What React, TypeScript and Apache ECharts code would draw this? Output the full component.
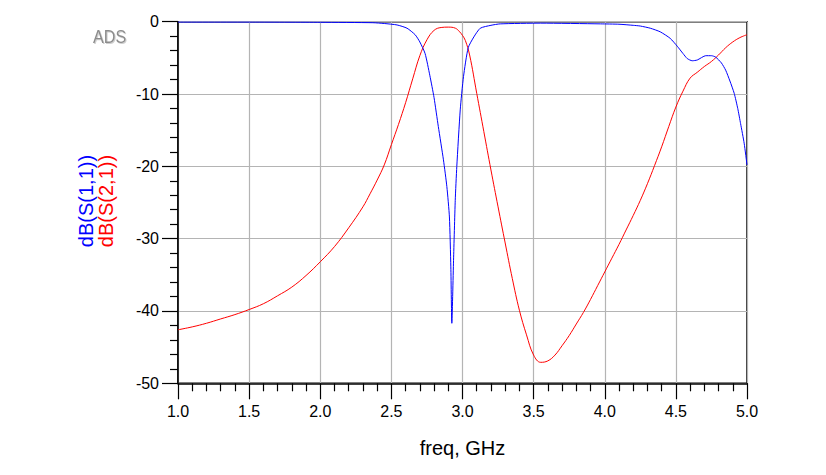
import React, { useEffect, useRef } from "react";
import * as echarts from "echarts";

// freq (GHz), dB(S(1,1))
const s11: [number, number][] = [
  [1.0, -0.05], [1.5, -0.05], [2.0, -0.08], [2.37, -0.14], [2.45, -0.25],
  [2.54, -0.45], [2.61, -0.9], [2.667, -1.8], [2.7, -2.8], [2.737, -4.4],
  [2.77, -7.4], [2.8, -10.5], [2.83, -14.5], [2.866, -19.1], [2.89, -22.8],
  [2.908, -27.0], [2.918, -33.9], [2.925, -41.7], [2.937, -33.0], [2.949, -24.7],
  [2.96, -20.0], [2.984, -12.2], [3.007, -7.6], [3.04, -3.6], [3.08, -2.1],
  [3.125, -0.9], [3.2, -0.5], [3.265, -0.3], [3.55, -0.2], [3.97, -0.3],
  [4.1, -0.35], [4.2, -0.5], [4.25, -0.6], [4.32, -0.9], [4.39, -1.4],
  [4.46, -2.3], [4.51, -3.4], [4.55, -4.4], [4.58, -5.1], [4.615, -5.4],
  [4.65, -5.3], [4.71, -4.7], [4.75, -4.7], [4.78, -4.9], [4.82, -5.7],
  [4.85, -6.7], [4.88, -8.2], [4.91, -9.9], [4.935, -12.0], [4.955, -14.1],
  [4.98, -16.8], [5.0, -19.8],
];

// freq (GHz), dB(S(2,1))
const s21: [number, number][] = [
  [1.0, -42.6], [1.1, -42.2], [1.2, -41.7], [1.3, -41.1], [1.4, -40.5],
  [1.5, -39.8], [1.6, -39.0], [1.7, -37.9], [1.8, -36.7], [1.9, -35.1],
  [2.0, -33.2], [2.1, -31.1], [2.2, -28.5], [2.3, -25.6], [2.35, -23.8],
  [2.4, -21.9], [2.45, -19.8], [2.5, -17.0], [2.55, -14.2], [2.6, -11.2],
  [2.65, -7.9], [2.7, -4.7], [2.75, -2.5], [2.8, -1.2], [2.85, -0.8],
  [2.9, -0.75], [2.95, -0.9], [2.98, -1.4], [3.0, -1.9], [3.02, -2.6],
  [3.05, -4.6], [3.1, -9.9], [3.15, -15.2], [3.2, -20.5], [3.25, -25.6],
  [3.3, -30.6], [3.35, -35.5], [3.4, -39.9], [3.45, -43.3], [3.5, -46.1],
  [3.55, -47.1], [3.6, -46.9], [3.65, -46.1], [3.7, -44.8], [3.75, -43.4],
  [3.8, -41.8], [3.85, -40.2], [3.9, -38.4], [3.95, -36.5], [4.0, -34.6],
  [4.05, -32.7], [4.1, -30.8], [4.15, -28.8], [4.2, -26.8], [4.25, -24.7],
  [4.3, -22.4], [4.35, -19.9], [4.4, -17.3], [4.45, -14.5], [4.5, -11.8],
  [4.55, -9.6], [4.6, -7.8], [4.65, -7.0], [4.7, -6.2], [4.75, -5.5],
  [4.8, -4.6], [4.85, -3.6], [4.9, -2.8], [4.95, -2.2], [5.0, -1.8],
];

const font = "Arial, 'Liberation Sans', sans-serif";

const App: React.FC = () => {
  const chartRef = useRef<HTMLDivElement>(null);

  useEffect(() => {
    if (!chartRef.current) return;
    const chart = echarts.init(chartRef.current, undefined, { renderer: "svg" });

    const axisCommon = {
      axisLine: { show: true, onZero: false, lineStyle: { color: "#000", width: 1.5 } },
      axisTick: { show: true, length: 16, lineStyle: { color: "#000", width: 1.2 } },
      minorTick: { show: true, splitNumber: 5, length: 8, lineStyle: { color: "#000", width: 1.2 } },
      splitLine: { show: true, lineStyle: { color: "#b4b4b4", width: 1.2 } },
      axisLabel: { color: "#000", fontSize: 16, fontFamily: font, margin: 20 },
    };

    chart.setOption({
      animation: false,
      grid: {
        left: 178, right: 79, top: 21.7, bottom: 91.7,
        show: true, borderColor: "#000", borderWidth: 1.5,
      },
      xAxis: {
        type: "value",
        min: 1,
        max: 5,
        interval: 0.5,
        ...axisCommon,
        axisLabel: {
          ...axisCommon.axisLabel,
          margin: 20,
          formatter: (v: number) => v.toFixed(1),
        },
      },
      yAxis: {
        type: "value",
        min: -50,
        max: 0,
        interval: 10,
        ...axisCommon,
        axisLabel: { ...axisCommon.axisLabel, margin: 19 },
      },
      series: [
        {
          name: "dB(S(2,1))",
          type: "line",
          data: s21,
          symbol: "none",
          smooth: 0.4,
          lineStyle: { color: "#ff0000", width: 1 },
        },
        {
          name: "dB(S(1,1))",
          type: "line",
          data: s11,
          symbol: "none",
          smooth: 0.2,
          lineStyle: { color: "#0000ff", width: 1 },
        },
      ],
      graphic: [
        {
          type: "text",
          x: 86,
          y: 201,
          rotation: Math.PI / 2,
          style: {
            text: "dB(S(1,1))", fill: "#0000ff", fontSize: 20, fontFamily: font,
            textAlign: "center", textVerticalAlign: "middle",
          },
        },
        {
          type: "text",
          x: 106,
          y: 201,
          rotation: Math.PI / 2,
          style: {
            text: "dB(S(2,1))", fill: "#ff0000", fontSize: 20, fontFamily: font,
            textAlign: "center", textVerticalAlign: "middle",
          },
        },
        {
          type: "text",
          x: 462.5,
          y: 448,
          style: {
            text: "freq, GHz", fill: "#000", fontSize: 20, fontFamily: font,
            textAlign: "center", textVerticalAlign: "middle",
          },
        },
        {
          type: "text",
          x: 93,
          y: 36.5,
          scaleX: 0.85,
          style: {
            text: "ADS", fill: "#8c8c8c", fontSize: 19, fontFamily: font,
            textAlign: "left", textVerticalAlign: "middle",
            textShadowColor: "#cfcfcf", textShadowOffsetX: 1, textShadowOffsetY: 1,
            textShadowBlur: 1,
          },
        },
      ],
    });

    return () => {
      chart.dispose();
    };
  }, []);

  return (
    <div
      ref={chartRef}
      style={{ position: "absolute", left: 0, top: 0, width: 826, height: 475 }}
    />
  );
};

export default App;
